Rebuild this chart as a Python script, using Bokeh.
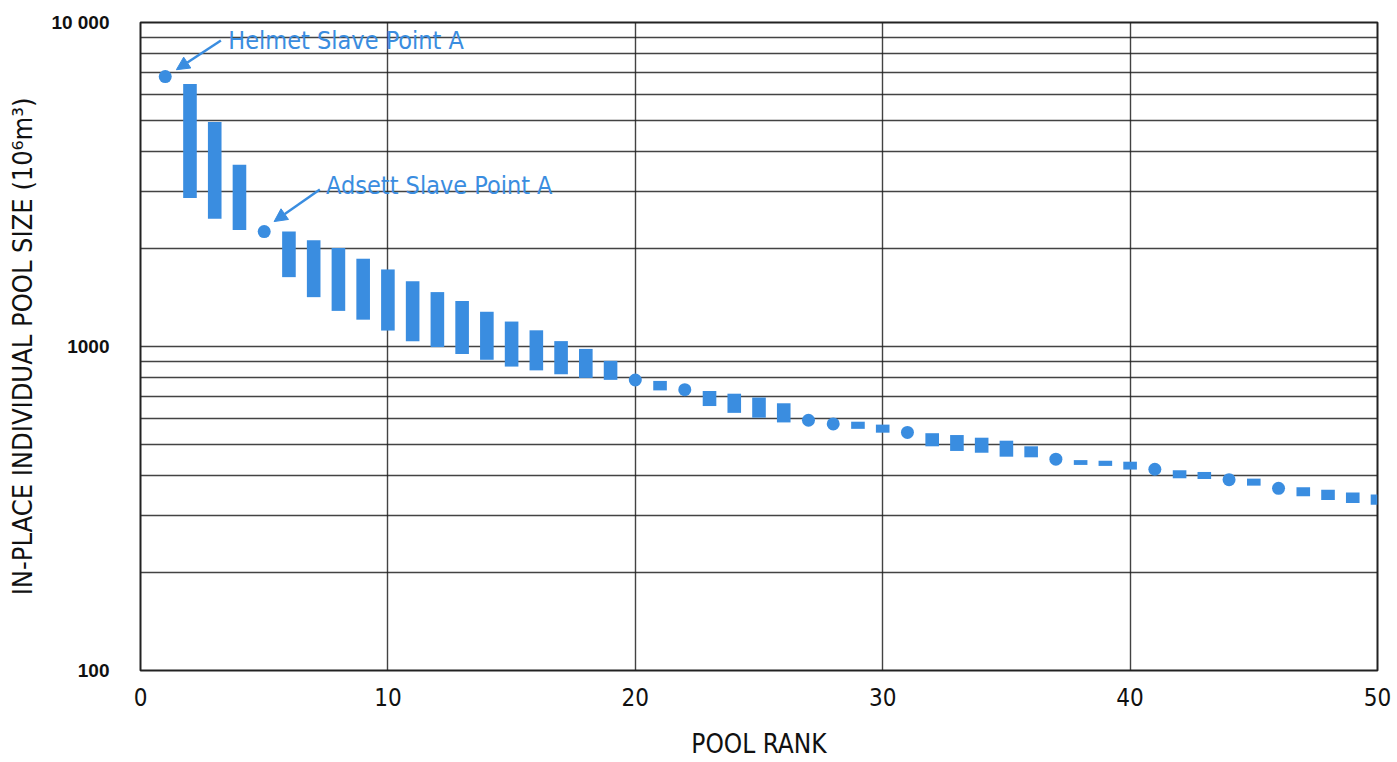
from bokeh.plotting import figure
from bokeh.models import Range1d, FixedTicker, Arrow, NormalHead, BasicTickFormatter
from bokeh.core.properties import value
from bokeh.embed import file_html
from bokeh.resources import INLINE

# ---- data ----
bar_rank = [2, 3, 4, 6, 7, 8, 9, 10, 11, 12, 13, 14, 15, 16, 17, 18, 19,
            21, 23, 24, 25, 26, 29, 30, 32, 33, 34, 35, 36, 38, 39, 40,
            42, 43, 45, 47, 48, 49, 50]
bar_high = [6460, 4930, 3640, 2265, 2128, 2013, 1866, 1729, 1590, 1472, 1382, 1280, 1194, 1122, 1039, 983, 903,
            783, 729, 715, 696, 668, 586, 574, 540, 533, 523, 512, 492, 446, 444, 441,
            415, 410, 391, 368, 361, 354, 349]
bar_low = [2872, 2477, 2290, 1637, 1420, 1288, 1210, 1120, 1038, 996, 948, 910, 867, 844, 821, 800, 789,
           732, 655, 624, 603, 583, 557, 542, 492, 476, 470, 457, 455, 431, 428, 417,
           392, 390, 372, 345, 336, 329, 325]

dot_rank = [1, 5, 20, 22, 27, 28, 31, 37, 41, 44, 46]
dot_value = [6810, 2263, 788, 736, 592, 577, 543, 449, 418, 388, 365]

x_ticks = [0, 10, 20, 30, 40, 50]
y_major = [100, 1000, 10000]
y_labels = {100: "100", 1000: "1000", 10000: "10 000"}
y_minor_grid = [200, 300, 400, 500, 600, 700, 800, 900, 1000,
                2000, 3000, 4000, 5000, 6000, 7000, 8000, 9000]

# annotations: label, text anchor, arrow start, arrow end
ann_labels = ["Helmet Slave Point A", "Adsett Slave Point A"]
ann_text_x = [3.55, 7.5]
ann_text_y = [8800, 3150]
ann_arrow_x0 = [3.25, 7.25]
ann_arrow_y0 = [8800, 3050]
ann_arrow_x1 = [1.45, 5.4]
ann_arrow_y1 = [7150, 2430]

BLUE = "#3a8de0"
COND = "'Liberation Sans Narrow', 'DejaVu Sans Condensed', 'Arial Narrow', sans-serif"

p = figure(width=1397, height=762, y_axis_type="log",
           x_range=Range1d(0, 50), y_range=Range1d(100, 10000),
           output_backend="svg", toolbar_location=None,
           min_border_left=140, min_border_right=20,
           min_border_top=22, min_border_bottom=92)

p.background_fill_color = "white"
p.border_fill_color = "white"
p.outline_line_color = "#222222"
p.outline_line_width = 2

# grids
p.xgrid.ticker = FixedTicker(ticks=[10, 20, 30, 40])
p.ygrid.ticker = FixedTicker(ticks=y_minor_grid)
for g in (p.xgrid, p.ygrid):
    g.grid_line_color = "#222222"
    g.grid_line_width = 1.4
    g.grid_line_alpha = 0.85

# x axis
xa = p.xaxis[0]
xa.ticker = FixedTicker(ticks=x_ticks)
xa.axis_line_color = None
xa.major_tick_line_color = None
xa.minor_tick_line_color = None
xa.major_label_standoff = 11
xa.major_label_text_font = COND
xa.major_label_text_font_size = "24px"
xa.major_label_text_color = "#111111"
xa.axis_label = "POOL RANK"
xa.axis_label_text_font = COND
xa.axis_label_text_font_size = "26px"
xa.axis_label_text_font_style = "normal"
xa.axis_label_text_color = "#111111"
xa.axis_label_standoff = 20

# y axis
ya = p.yaxis[0]
ya.ticker = FixedTicker(ticks=y_major)
ya.formatter = BasicTickFormatter()
ya.major_label_overrides = y_labels
ya.axis_line_color = None
ya.major_tick_line_color = None
ya.minor_tick_line_color = None
ya.major_label_standoff = 25
ya.major_label_text_font = "Liberation Sans"
ya.major_label_text_font_style = "bold"
ya.major_label_text_font_size = "19px"
ya.major_label_text_color = "#111111"
ya.axis_label = "IN-PLACE INDIVIDUAL POOL SIZE (10\u2076m\u00b3)"
ya.axis_label_text_font = COND
ya.axis_label_text_font_size = "27px"
ya.axis_label_text_font_style = "normal"
ya.axis_label_text_color = "#111111"
ya.axis_label_standoff = 10

# marks
p.vbar(x=bar_rank, bottom=bar_low, top=bar_high, width=0.55,
       fill_color=BLUE, line_color=None)
p.scatter(x=dot_rank, y=dot_value, size=13, marker="circle",
          fill_color=BLUE, line_color=None)

# annotations
p.text(x=ann_text_x, y=ann_text_y, text=ann_labels,
       text_font=value(COND), text_font_size="25px",
       text_color=BLUE, text_align="left", text_baseline="middle")
for i in range(len(ann_labels)):
    p.add_layout(Arrow(end=NormalHead(size=13, fill_color=BLUE, line_color=BLUE),
                       x_start=ann_arrow_x0[i], y_start=ann_arrow_y0[i],
                       x_end=ann_arrow_x1[i], y_end=ann_arrow_y1[i],
                       line_color=BLUE, line_width=2.5))

open("out.html", "w").write(file_html(p, INLINE))
